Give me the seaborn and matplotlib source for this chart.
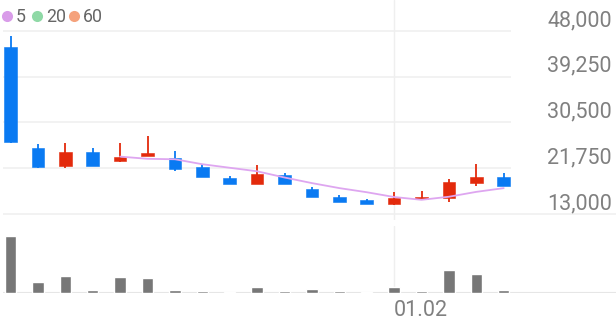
import numpy as np
import pandas as pd
import matplotlib
matplotlib.use("Agg")
import matplotlib.pyplot as plt
from matplotlib.lines import Line2D
import seaborn as sns

# ---- data ----
opens  = [45000, 25560, 22180, 24860, 23080, 24150, 23650, 22050, 19940, 18790,
          20460, 17840, 16310, 15680, 14850, 15810, 16000, 18990, 20020]
highs  = [46980, 26390, 26640, 25620, 26520, 27920, 25110, 22500, 20270, 22370,
          20780, 18110, 16580, 15870, 17150, 17340, 19750, 22500, 20900]
lows   = [26580, 21860, 21860, 22180, 23000, 24090, 21280, 20070, 18790, 18790,
          18740, 16250, 15350, 14850, 14720, 15680, 15350, 18360, 18410]
closes = [26830, 22050, 24860, 22180, 23960, 24730, 21610, 20130, 18790, 20590,
          18790, 16250, 15350, 14850, 16000, 16120, 19180, 20020, 18410]
volumes = [1730, 330, 520, 90, 480, 450, 100, 70, 40, 190,
           50, 110, 70, 40, 180, 70, 690, 570, 90]
price_ticks = [48000, 39250, 30500, 21750, 13000]
date_label = "01.02"
date_index = 14
legend_labels = ["5", "20", "60"]
legend_colors = ["#d99ce9", "#8fd9a6", "#f5a27c"]

UP, DOWN = "#e32a0c", "#0a7af2"
MA_COLOR = "#dea6f0"
GRID = "#f0f0f0"
TXT = "#808080"

W, H = 616, 321
sns.set_theme(style="white")
plt.rcParams["font.family"] = ["Roboto", "DejaVu Sans"]

fig = plt.figure(figsize=(W / 100, H / 100), dpi=100)

step = 27.4
x0 = 10.5
def px2x(p):
    return (p - x0) / step

# price mapping: gridline pixel 31 -> 48000, 214 -> 13000
ppx = (48000 - 13000) / (214 - 31)
def py2v(p):
    return 48000 - (p - 31) * ppx

ax = fig.add_axes([0, 1 - 220 / H, 1, 220 / H])
axv = fig.add_axes([0, 1 - 293 / H, 1, 67 / H])

idx = np.arange(len(closes))
df = pd.DataFrame({"i": idx, "open": opens, "high": highs, "low": lows,
                   "close": closes, "vol": volumes})
df["ma5"] = df["close"].rolling(5).mean()

# gridlines
for t in price_ticks:
    xmax = px2x(W) if t == price_ticks[-1] else px2x(511)
    ax.hlines(t, px2x(3), xmax, color=GRID, lw=1.2, zorder=0)
ax.axvline(date_index, color="#efefef", lw=1, zorder=0)
axv.axvline(date_index, color="#efefef", lw=1, zorder=0)

# candles
for _, r in df.iterrows():
    c = UP if r["close"] >= r["open"] else DOWN
    ax.vlines(r["i"], r["low"], r["high"], color=c, lw=1.3, zorder=2)
    lo = min(r["open"], r["close"])
    h = max(abs(r["close"] - r["open"]), 2.5 * ppx)
    ax.bar(r["i"], h, bottom=lo, width=0.46, color=c, edgecolor=c,
           linewidth=0.4, zorder=3)

# MA5
ma = df.dropna(subset=["ma5"])
sns.lineplot(data=ma, x="i", y="ma5", ax=ax, color=MA_COLOR, lw=1.3, zorder=4)

ax.set_xlim(px2x(0), px2x(W))
ax.set_ylim(py2v(220), py2v(0))
ax.axis("off")

# price labels above gridlines
for t in price_ticks:
    ax.annotate(f"{t:,}", xy=(612 / W, t), xycoords=("axes fraction", "data"),
                xytext=(0, 5 * 0.72), textcoords="offset points",
                ha="right", va="baseline", fontsize=15.5, color=TXT)

# volume
sns.barplot(data=df, x="i", y="vol", ax=axv, native_scale=True,
            color="#777777", saturation=1, width=0.42, zorder=2)
axv.hlines(0, px2x(3), px2x(W), color="#e6e6e6", lw=1.5, zorder=1)
axv.set_xlim(px2x(0), px2x(W))
axv.set_ylim(0, max(volumes) * 67 / 57)
axv.axis("off")

# date label
fig.text(420.5 / W, 1 - 316.5 / H, date_label, ha="center", va="baseline",
         fontsize=15.5, color=TXT)

# legend
dots_x = [6.7, 37, 74]
text_x = [16, 46.5, 83]
for dx, tx, lab, col in zip(dots_x, text_x, legend_labels, legend_colors):
    fig.add_artist(Line2D([dx / W], [1 - 15.7 / H], marker="o", markersize=8,
                          color=col, markeredgewidth=0,
                          transform=fig.transFigure))
    fig.text(tx / W, 1 - 22 / H, lab, ha="left", va="baseline",
             fontsize=12.8, color="#666666")

fig.savefig("out.png", dpi=100)
